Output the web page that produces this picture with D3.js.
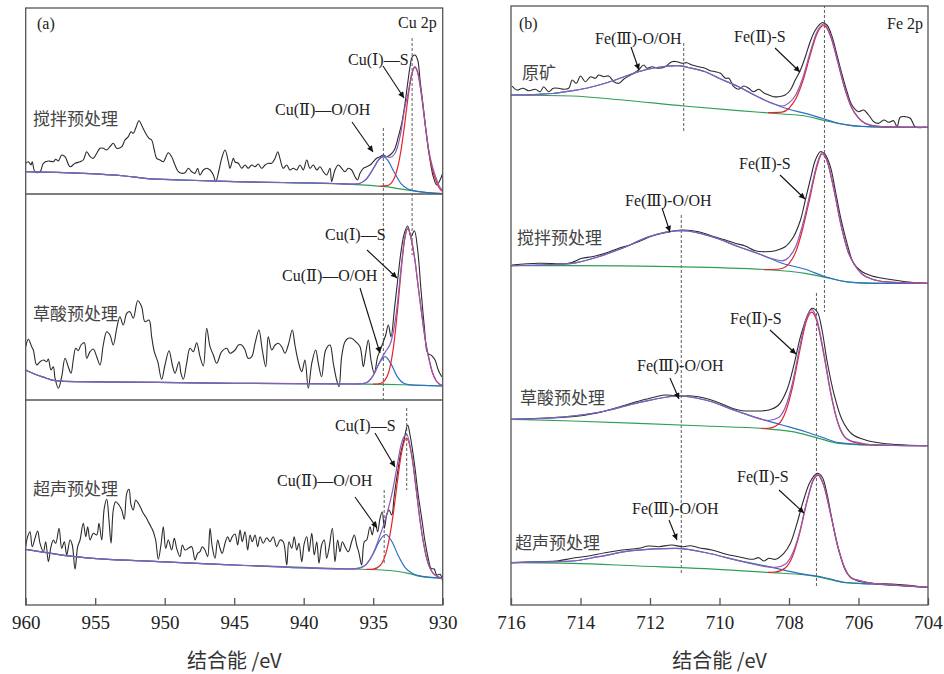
<!DOCTYPE html>
<html>
<head>
<meta charset="utf-8">
<script src="https://cdn.jsdelivr.net/npm/d3@7"></script>
<style>
  body { margin: 0; background: #fff; }
  svg { display: block; }
</style>
</head>
<body>
<svg width="944" height="674"></svg>
<script>
//  tick values
var cuTicks = [960, 955, 950, 945, 940, 935, 930];
var feTicks = [716, 714, 712, 710, 708, 706, 704];

//  sample names
var cuSamples = ["搅拌预处理", "草酸预处理", "超声预处理"];
var feSamples = ["原矿", "搅拌预处理", "草酸预处理", "超声预处理"];

//  peak positions marked with dashed lines (eV)
var cuPeakEnergies = [934.27, 932.2, 934.21, 932.59];
var fePeakEnergies = [711.03, 706.98, 711.1, 707.21];

//  Cu 2p, [binding energy, intensity a.u.]
var cuRaw1 = [[960,30.7],[959.81,32.3],[959.62,29],[959.53,32.3],[959.33,22.3],[958.97,22.3],[958.73,30.7],[958.37,33],[958.01,32.3],[957.84,34.7],[957.65,33],[957.41,39],[957.17,37.3],[956.81,27.3],[956.45,30.7],[956.09,32.3],[955.86,34],[955.61,42.3],[955.37,37.3],[955.14,35.7],[954.89,40.7],[954.65,45.7],[954.42,45.7],[954.17,44],[953.94,47.3],[953.7,50.7],[953.45,45.7],[953.09,47.3],[952.86,54],[952.62,57.3],[952.42,62.3],[952.26,60.7],[952.09,65.7],[951.85,73.3],[951.61,67.3],[951.37,60.7],[951.13,55.7],[950.94,54],[950.75,44],[950.58,35.7],[950.34,34],[950.1,32.3],[949.74,41.3],[949.5,37.3],[949.26,29],[949.02,22.3],[948.78,20.7],[948.54,21.3],[948.3,25.7],[948.06,22.3],[947.82,20.7],[947.63,25.7],[947.46,19],[947.22,24],[946.98,25.7],[946.74,24],[946.5,19],[946.33,12.3],[946.09,24],[945.9,35.7],[945.66,44],[945.42,32.3],[945.3,25.7],[945.06,35.7],[944.94,32],[944.7,30.7],[944.46,25.7],[944.22,29],[943.99,25.7],[943.74,29],[943.5,27.3],[943.27,30],[943.02,25.7],[942.78,29],[942.55,30.7],[942.3,30.7],[942.06,35.7],[941.87,42.3],[941.71,35.7],[941.47,25.7],[941.22,29],[940.99,24],[940.75,25.7],[940.5,24],[940.27,29],[940.03,24],[939.78,34],[939.55,25.7],[939.31,29],[939.06,24],[938.83,27.3],[938.59,22.3],[938.35,19],[938.11,25.7],[937.99,12.3],[937.75,24],[937.51,29],[937.27,25.7],[937.03,22.3],[936.79,25.7],[936.55,24],[936.31,17.3],[936.12,14],[935.95,20.7],[935.71,25.7],[935.47,27.3],[935.23,29],[934.99,32.3],[934.75,35.7],[934.51,37.3],[934.27,39],[934.03,37.3],[933.79,39],[933.48,44],[933.19,57.3],[932.95,70.7],[932.71,90.7],[932.52,110.7],[932.35,127.3],[932.19,137.3],[931.99,139],[931.8,134],[931.63,114],[931.4,87.3],[931.15,57.3],[930.91,34],[930.68,17.3],[930.43,9],[930.19,14],[930,20.7]];
var cuBg1 = [[960,22.3],[952.86,18],[951.4,15.7],[948.8,14],[944.94,12.3],[936.55,9.7],[934.15,7.3],[932.23,3.3],[930.55,0.6],[930,0.4]];
var cuLow1 = [[937,10.2],[936.5,9.8],[936,10.5],[935.5,14.8],[935,25.2],[934.6,34.4],[934.27,37.2],[934,34.7],[933.5,22],[933,10.4],[932.5,5],[932,3.1],[931,1.3],[930,0.4]];
var cuMain1 = [[934.5,7.7],[934,8.3],[933.5,15.3],[933,43.6],[932.75,68.4],[932.5,95.9],[932.25,117.9],[932,126.7],[931.75,118.5],[931.5,96.2],[931.25,68],[931,42],[930.75,25],[930.5,14],[930.25,6],[930,2.5]];
var cuEnv1 = [[937,10.2],[936.5,9.8],[936,10.5],[935.5,14.8],[935,25.2],[934.6,34.5],[934.27,37.8],[933.79,36.7],[933.43,40.7],[933.07,57.3],[932.71,87.3],[932.5,100],[932.25,119],[932,127.3],[931.75,119],[931.5,97],[931.25,69],[931,44],[930.75,28],[930.5,17],[930.25,8],[930,3.5]];

var cuRaw2 = [[960,53.3],[959.81,60.7],[959.57,53.3],[959.45,50],[959.21,35],[958.97,38.3],[958.73,40],[958.49,38.3],[958.37,41],[958.18,30],[958.01,33.3],[957.89,21.7],[957.65,11.7],[957.41,23.3],[957.17,41.7],[956.94,33.3],[956.74,26.7],[956.58,40],[956.4,51.7],[956.22,49.3],[956.02,55],[955.78,57.3],[955.61,41.7],[955.37,48.3],[955.14,51],[954.89,43.3],[954.65,35],[954.42,55],[954.17,68.3],[953.94,65],[953.7,55],[953.45,71.7],[953.22,83.3],[952.98,75],[952.73,86.7],[952.5,88.3],[952.26,81.7],[951.94,99.3],[951.66,93.3],[951.42,78.3],[951.13,80],[950.94,63.3],[950.75,48.3],[950.5,38.3],[950.22,20.7],[949.98,35],[949.69,49.3],[949.45,35],[949.26,26.7],[948.97,38.3],[948.83,26.7],[948.66,20.7],[948.42,36.7],[948.18,51.7],[947.94,48.3],[947.7,57.3],[947.46,43.3],[947.22,34],[946.98,71.7],[946.74,53.3],[946.5,45],[946.26,36.7],[945.9,48.3],[945.54,51.7],[945.3,46.7],[944.94,50],[944.7,55],[944.46,55],[944.22,50],[943.99,41.7],[943.74,43.3],[943.5,56.7],[943.22,70],[942.98,50],[942.73,33.3],[942.55,63.3],[942.3,50],[942.06,55],[941.83,56.7],[941.58,53.3],[941.35,46.7],[941.11,55],[940.82,70],[940.63,55],[940.39,38.3],[940.14,28.3],[939.91,40],[939.67,11.7],[939.42,36.7],[939.14,50],[938.95,36.7],[938.71,23.3],[938.42,50],[938.11,55],[937.87,36.7],[937.63,20],[937.46,13.3],[937.27,43.3],[937.03,58.3],[936.79,61.7],[936.55,61.7],[936.26,58.3],[935.95,53.3],[935.71,33.3],[935.54,46.7],[935.35,60],[935.16,40],[934.92,26.7],[934.68,43.3],[934.49,50],[934.27,58.3],[934.1,65],[933.91,75],[933.72,63.3],[933.48,90],[933.24,120],[933,148.3],[932.76,166.7],[932.52,174],[932.28,163.3],[932.04,169.3],[931.8,150],[931.56,110],[931.32,73.3],[931.08,46.7],[930.79,44.3],[930.55,40],[930.32,30],[930.07,23.3]];
var cuBg2 = [[960,30],[959.33,25.7],[958.61,22.3],[957.89,19.3],[956.45,18.3],[950.48,17.7],[944.94,16.7],[936.31,16],[934.15,15.7],[932.28,15],[930,14]];
var cuLow2 = [[936.5,16],[936,16.1],[935.5,17.3],[935,24.5],[934.6,35.8],[934.15,43.3],[933.7,35.6],[933.3,24.1],[932.8,16.8],[932.3,15.1],[931,14.4],[930,14]];
var cuMain2 = [[935,15.8],[934.5,16.5],[934,23.6],[933.5,57.3],[933.25,89.8],[933,127.8],[932.75,159.3],[932.5,171.6],[932.25,160],[932,140],[931.75,112],[931.5,85],[931.25,60],[931,42],[930.75,28],[930.5,20],[930.25,16],[930,14.5]];
var cuEnv2 = [[936,16.1],[935.5,17.3],[935,24.6],[934.6,36.2],[934.15,47.6],[933.7,59],[933.3,91.4],[933,131.2],[932.75,160.5],[932.5,171.9],[932.25,160.2],[932,140.1],[931.75,112],[931.5,85],[931.25,60],[931,42],[930.75,28],[930.5,20],[930.25,16],[930,14.5]];

var cuRaw3 = [[960,58.3],[959.86,68.3],[959.69,73.3],[959.53,58.3],[959.33,66.7],[959.14,74],[958.97,61.7],[958.73,53.3],[958.56,63.3],[958.37,43.3],[958.18,58.3],[958.01,65],[957.84,61.7],[957.6,76.7],[957.41,56.7],[957.22,63.3],[957.05,50],[956.81,65],[956.65,60],[956.45,35.7],[956.26,58.3],[956.09,65],[955.86,81.7],[955.68,68.3],[955.54,78.3],[955.37,65],[955.14,71.7],[954.89,70],[954.73,81.7],[954.53,65],[954.35,96.7],[954.17,105.7],[954.01,85],[953.86,61.7],[953.7,95],[953.53,103.3],[953.29,100],[953.09,95],[952.91,85.7],[952.73,111.7],[952.57,115.7],[952.42,100],[952.26,95],[952.09,105],[951.9,101.7],[951.71,96.7],[951.54,91.7],[951.37,88.3],[951.18,83.3],[950.99,78.3],[950.82,73.3],[950.65,65],[950.46,45.7],[950.27,60],[950.1,78.3],[949.93,56.7],[949.74,65],[949.5,55],[949.31,66.7],[949.14,56.7],[948.9,48.3],[948.73,60],[948.54,55],[948.3,56.7],[948.06,58.3],[947.82,45],[947.63,51.7],[947.46,53.3],[947.3,58.3],[947.1,55],[946.91,48.3],[946.74,76.7],[946.58,58.3],[946.38,46.7],[946.19,65],[946.02,56.7],[945.86,51.7],[945.66,61.7],[945.47,68.3],[945.3,63.3],[945.14,68.3],[944.94,71],[944.75,60],[944.58,75],[944.42,63.3],[944.22,73.3],[944.03,55],[943.86,70],[943.7,63.3],[943.5,70],[943.31,58.3],[943.14,68.3],[942.91,61.7],[942.66,67.3],[942.42,63.3],[942.19,68.3],[941.94,58.3],[941.7,65],[941.47,63.3],[941.22,40],[941.06,63.3],[940.86,56.7],[940.68,68.3],[940.5,55],[940.34,61.7],[940.14,43.3],[939.96,61.7],[939.78,68.3],[939.62,53.3],[939.42,71.7],[939.24,50],[939.06,63.3],[938.9,41.7],[938.71,60],[938.52,65],[938.35,46.7],[938.18,56.7],[937.94,76.7],[937.75,43.3],[937.56,65],[937.39,53.3],[937.22,63.3],[937.03,58.3],[936.79,53.3],[936.55,63.3],[936.36,70],[936.19,60],[936.02,51.7],[935.83,40],[935.64,63.3],[935.47,65],[935.23,78.3],[935.07,70],[934.87,83.3],[934.68,73.3],[934.51,86.7],[934.35,93.3],[934.2,76.7],[934.03,90],[933.86,95],[933.67,90],[933.48,110],[933.24,133.3],[933,153.3],[932.76,166.7],[932.52,180],[932.35,170],[932.19,156.7],[931.99,136.7],[931.76,110],[931.51,86.7],[931.27,63.3],[931.04,46.7],[930.84,36.7],[930.61,36],[930.43,30],[930.19,30.7],[930,23.3]];
var cuBg3 = [[960,55.7],[956.45,48.3],[950.45,43.3],[944.94,40],[936.55,36],[934.39,35],[932.47,31.7],[931.5,28.3],[930,26.7]];
var cuLow3 = [[936.5,36.1],[936,36.8],[935.5,40.6],[935,51.2],[934.6,62.9],[934.1,70.5],[933.6,62],[933.2,49.4],[932.7,37.3],[932.2,31.8],[931.7,29.3],[931,27.8],[930,26.7]];
var cuMain3 = [[935.5,35.6],[935,35.9],[934.5,39.5],[934,56.1],[933.6,86.9],[933.3,118.8],[933,149.2],[932.6,166.8],[932.2,146.8],[931.9,114.9],[931.6,81.5],[931.2,49.4],[930.7,31.8],[930.2,27.4],[930,26.8]];
var cuEnv3 = [[936.5,36.1],[936,36.8],[935.5,40.7],[935,51.8],[934.6,66.1],[934.1,86.8],[933.6,114.7],[933.2,145.4],[933,159.8],[932.6,170.6],[932.2,147.8],[931.9,114.9],[931.6,81.5],[931.2,49.4],[930.7,31.8],[930.2,27.4],[930,26.8]];

//  Fe 2p, [binding energy, intensity a.u.]
var feRaw1 = [[715.97,59],[715.83,55],[715.66,56.7],[715.49,54.3],[715.3,55.7],[715.16,53.3],[715.06,58.3],[714.92,53.3],[714.78,56.7],[714.63,56.7],[714.49,55.7],[714.34,56.7],[714.24,65],[714.12,61.7],[714,69],[713.86,63.3],[713.71,68.3],[713.57,66.7],[713.48,70],[713.33,68.3],[713.19,69],[713.04,63.3],[712.9,61.7],[712.76,65.7],[712.61,69],[712.47,71.7],[712.33,75],[712.18,80],[712.09,76.7],[711.94,78.3],[711.75,76.7],[711.56,78.3],[711.37,83.3],[711.22,83.3],[711.08,81.7],[710.94,82.3],[710.79,80],[710.6,78.3],[710.41,76.7],[710.27,74.3],[710.12,73.3],[709.97,71.7],[709.83,66.7],[709.73,66.7],[709.59,58.3],[709.45,55.7],[709.3,59],[709.16,56.7],[709.02,53.3],[708.87,55.7],[708.73,52.3],[708.58,50],[708.44,48.3],[708.3,48.3],[708.11,50],[707.96,55],[707.82,65],[707.67,75],[707.53,88.3],[707.39,103.3],[707.24,115],[707.05,122.3],[706.91,120],[706.76,108.3],[706.62,90],[706.47,70],[706.33,53.3],[706.19,40],[706,33.3],[705.85,35],[705.71,30],[705.56,23.3],[705.42,21.7],[705.27,25],[705.13,22.7],[704.99,24.3],[704.89,18.3],[704.8,27.7],[704.65,28.3],[704.51,26.7],[704.37,18.3],[704.22,17.3],[704.08,18.3]];
var feBg1 = [[716,50],[714.24,49],[712.8,45],[711.03,39],[709.45,34.3],[708.2,31],[707.53,29],[706.96,24.3],[706.09,19],[705.13,17.7],[704,17.7]];
var feLow1 = [[716,50],[715.2,50.7],[714.8,51.5],[714.24,54.3],[713.8,57],[713.29,61.7],[712.8,67.5],[712.33,73.3],[711.8,77.5],[711.22,79.3],[710.9,77.5],[710.41,73.3],[710,66.5],[709.45,58.3],[709,50],[708.49,41.7],[708.01,35.7],[707.53,31.7],[707.05,26.7],[706.57,21.7],[705.7,18.3],[704,17.7]];
var feMain1 = [[708.6,32.3],[708.2,32.9],[708,36.7],[707.8,46.4],[707.6,64.2],[707.4,88.6],[707.2,110.8],[707,119.5],[706.8,108.3],[706.6,83.3],[706.4,57],[706.2,37.5],[706,27],[705.8,21.5],[705.5,18.8],[705,17.8],[704,17.7]];
var feEnv1 = [[708.49,41.9],[708.2,39],[708,42.1],[707.8,50.5],[707.6,67.5],[707.4,91.5],[707.2,112.8],[707,121],[706.8,109.5],[706.6,84],[706.4,57.5],[706.2,37.8],[706,27.2],[705.8,21.6],[705.5,18.8],[705,17.8],[704,17.7]];

var feRaw2 = [[715.97,33],[715.2,34.7],[714.34,34.7],[713.96,39.7],[713.67,41.3],[713.29,44.7],[712.9,49.7],[712.62,52.5],[712.33,56.3],[711.94,62],[711.56,65.3],[711.08,68],[710.6,66.3],[710.22,62],[709.83,58],[709.55,54.7],[709.26,52],[708.97,47.3],[708.68,46.3],[708.39,47.3],[708.11,51.3],[707.87,61.3],[707.67,78],[707.53,98],[707.39,118],[707.24,138],[707.1,146.3],[706.97,144],[706.81,131.3],[706.67,108],[706.52,81.3],[706.33,54.7],[706.14,34.7],[705.9,26.3],[705.61,22],[705.13,18.7],[704.65,16.3],[704.08,14.7]];
var feBg2 = [[716,32.3],[714.24,32.3],[711.37,31.3],[708.49,28],[707.53,24.7],[706.96,20.7],[706.09,15.3],[705.13,14.7],[704,14.7]];
var feLow2 = [[716,32.3],[715.2,33],[714.24,34.7],[713.48,41.3],[712.8,49.7],[712.04,61.3],[711.08,67.3],[710.22,61.3],[709.45,51.3],[708.78,43],[708.2,34.7],[707.53,28.7],[706.96,21.3],[706.38,16.3],[705.61,14.7],[704,14.7]];
var feMain2 = [[708.7,28.4],[708.5,28.5],[708.2,29.5],[708,34.3],[707.8,46.6],[707.6,70],[707.4,100],[707.2,130.8],[707.05,144],[706.9,136.3],[706.7,106.8],[706.5,72.3],[706.3,46.3],[706.1,32.5],[705.9,24],[705.6,18.8],[705.2,16.2],[704.5,15.2],[704,14.7]];
var feEnv2 = [[708.78,43],[708.5,39.5],[708.2,37.2],[708,40.9],[707.8,52.1],[707.6,74.3],[707.4,103.5],[707.2,133.1],[707.05,145.4],[706.9,137.3],[706.7,107.6],[706.5,72.6],[706.3,46.3],[706.1,32.5],[705.9,24],[705.6,18.8],[705.2,16.2],[704.5,15.2],[704,14.7]];

var feRaw3 = [[715.97,32.7],[715.2,33.7],[714.24,35.3],[713.48,39.3],[712.8,46],[712.13,52.7],[711.56,57],[711.17,56],[710.79,56],[710.41,53.7],[710.02,49.3],[709.64,43.7],[709.35,41.3],[708.97,41],[708.58,42],[708.3,47],[708.06,62],[707.87,85.3],[707.67,115.3],[707.48,135.3],[707.34,143.7],[707.19,140.3],[707.05,122],[706.91,92],[706.71,58.7],[706.47,32],[706.19,18],[705.8,12],[705.32,8.7],[704.65,7],[704.08,6.3]];
var feBg3 = [[716,32.7],[714.24,31],[712.33,28.7],[710.41,26],[708.49,22.7],[707.91,20.3],[707.24,14.7],[706.57,8.7],[705.61,7],[704,6.3]];
var feLow3 = [[716,32.7],[715.2,33.5],[714.24,36],[713.29,41],[712.33,49.3],[711.17,56],[710.41,52],[709.45,40.3],[708.78,32.7],[708.2,27],[707.53,20.3],[707.05,14.7],[706.57,9.3],[705.61,7],[704,6.3]];
var feMain3 = [[708.8,23.5],[708.6,23.7],[708.3,28],[708.1,40],[707.9,64.7],[707.7,99.7],[707.5,131],[707.34,139.9],[707.2,130.9],[707,97.7],[706.8,58.7],[706.6,29.7],[706.4,15],[706.2,10.5],[706,8.8],[705.8,7.6],[705.5,7],[704,6.3]];
var feEnv3 = [[708.78,32.7],[708.6,31.5],[708.3,34.5],[708.1,45.2],[707.9,69],[707.7,103.4],[707.5,134],[707.34,142.3],[707.2,133],[707,99.4],[706.8,60],[706.6,30.4],[706.4,15.3],[706.2,11],[706,9.5],[705.8,8],[705.5,7.2],[704,6.3]];

var feRaw4 = [[715.97,42.3],[715.2,43.3],[714.63,44.3],[714.24,46.7],[713.76,49],[713.29,52.3],[712.8,55],[712.33,56.7],[712.04,59],[711.75,58.3],[711.37,60],[711.08,58.3],[710.84,59.3],[710.6,57.3],[710.22,55],[709.83,51],[709.45,48.3],[709.06,45.7],[708.87,47.3],[708.73,44],[708.58,46.7],[708.39,45.7],[708.15,51.7],[707.96,61.7],[707.77,81.7],[707.58,105],[707.39,123.3],[707.19,131.7],[707.05,128.3],[706.91,111.7],[706.76,85],[706.57,55],[706.33,31.7],[706.09,25],[705.61,21.7],[705.04,21],[704.65,20],[704.08,17.7]];
var feBg4 = [[716,42.3],[714.24,41.7],[712.33,39],[710.41,36.3],[708.49,32.3],[707.53,30],[706.96,26.7],[706.38,22.3],[705.61,21],[704,17.7]];
var feLow4 = [[716,42.3],[715.2,43],[714.24,44],[713.48,48.3],[712.52,54.3],[711.27,56.7],[710.22,51],[709.45,44.3],[708.49,37.7],[707.72,31.7],[707.05,28],[706.38,22.5],[705.61,21],[704,17.7]];
var feMain4 = [[708.6,32.6],[708.4,33],[708.1,37.3],[707.9,48.5],[707.7,70.8],[707.5,100.8],[707.3,124.8],[707.17,129.7],[707,119.4],[706.8,90.4],[706.6,59.2],[706.4,37.2],[706.2,26.7],[706,24.6],[705.8,22.8],[705.5,21.3],[705,20],[704,17.7]];
var feEnv4 = [[708.49,37.7],[708.4,37.6],[708.1,41.1],[707.9,51.4],[707.7,72.1],[707.5,101.8],[707.3,125.5],[707.17,130.3],[707,120],[706.8,90.8],[706.6,59.4],[706.4,37.3],[706.2,26.8],[706,24.6],[705.8,22.8],[705.5,21.3],[705,20],[704,17.7]];

//  svg and styles
var svg = d3.select("svg");
var serif = '"Liberation Serif", "DejaVu Serif", serif';
var cjk = '"Noto Sans CJK SC", sans-serif';
var colors = { raw: "#2b2b2b", bg: "#2f9e57", low: "#2a70c6", main: "#e8232b", env: "#8d5cb5" };

svg.append("defs").append("marker")
  .attr("id", "arrow")
  .attr("viewBox", "0 0 10 10")
  .attr("refX", 10).attr("refY", 5)
  .attr("markerUnits", "userSpaceOnUse")
  .attr("markerWidth", 10).attr("markerHeight", 6)
  .attr("orient", "auto")
  .append("path").attr("d", "M0,0L10,5L0,10z").attr("fill", "#111");

// fill a component out to the full energy range with its base line
function extend(core, base) {
  var hi = core[0][0], lo = core[core.length - 1][0];
  return base.filter(function(d) { return d[0] > hi; })
    .concat(core, base.filter(function(d) { return d[0] < lo; }));
}

var panels = [
  {
    id: "a", left: 25.7, right: 442.7, top: 8, bottom: 605, domain: [960, 930], ticks: cuTicks,
    rows: [[8, 194], [194, 400], [400, 605]], separators: true,
    spectra: [
      { raw: cuRaw1, bg: cuBg1, low: extend(cuLow1, cuBg1), main: cuMain1, env: extend(cuEnv1, cuBg1) },
      { raw: cuRaw2, bg: cuBg2, low: extend(cuLow2, cuBg2), main: cuMain2, env: extend(cuEnv2, cuBg2) },
      { raw: cuRaw3, bg: cuBg3, low: extend(cuLow3, cuBg3), main: cuMain3, env: extend(cuEnv3, cuBg3) }
    ],
    names: cuSamples,
    nameAt: [[33, 125], [33, 320], [33, 495]],
    peaks: cuPeakEnergies,
    dashes: [[128, 400], [38, 255], [490, 565], [408, 490]],
    tag: "(a)", tagAt: [37, 29], core: "Cu 2p", coreAt: [398, 28],
    notes: [
      { t: "Cu(Ⅱ)—O/OH", at: [275, 115], from: [352, 122], to: [373, 152] },
      { t: "Cu(Ⅰ)—S", at: [348, 65], from: [383, 66], to: [404, 98] },
      { t: "Cu(Ⅰ)—S", at: [325, 240], from: [367, 250], to: [397, 278] },
      { t: "Cu(Ⅱ)—O/OH", at: [282, 281], from: [360, 288], to: [380, 353] },
      { t: "Cu(Ⅰ)—S", at: [335, 431], from: [375, 433], to: [395, 467] },
      { t: "Cu(Ⅱ)—O/OH", at: [277, 486], from: [355, 497], to: [377, 528] }
    ]
  },
  {
    id: "b", left: 511, right: 928, top: 6, bottom: 605, domain: [716, 704], ticks: feTicks,
    rows: [[6, 145], [145, 298], [298, 452], [452, 605]], separators: false,
    spectra: [
      { raw: feRaw1, bg: feBg1, low: feLow1, main: feMain1, env: extend(feEnv1, feLow1) },
      { raw: feRaw2, bg: feBg2, low: feLow2, main: feMain2, env: extend(feEnv2, feLow2) },
      { raw: feRaw3, bg: feBg3, low: feLow3, main: feMain3, env: extend(feEnv3, feLow3) },
      { raw: feRaw4, bg: feBg4, low: feLow4, main: feMain4, env: extend(feEnv4, feLow4) }
    ],
    names: feSamples,
    nameAt: [[522, 79], [517, 244], [520, 404], [515, 549]],
    peaks: fePeakEnergies,
    dashes: [[43, 133], [5, 312], [215, 575], [293, 587]],
    tag: "(b)", tagAt: [519, 29], core: "Fe 2p", coreAt: [887, 29],
    notes: [
      { t: "Fe(Ⅲ)-O/OH", at: [595, 44], from: [631, 47], to: [639, 70] },
      { t: "Fe(Ⅱ)-S", at: [734, 42], from: [775, 48], to: [800, 72] },
      { t: "Fe(Ⅲ)-O/OH", at: [625, 206], from: [662, 208], to: [670, 232] },
      { t: "Fe(Ⅱ)-S", at: [739, 169], from: [780, 175], to: [805, 199] },
      { t: "Fe(Ⅲ)-O/OH", at: [637, 371], from: [670, 378], to: [679, 399] },
      { t: "Fe(Ⅱ)-S", at: [730, 324], from: [770, 330], to: [796, 354] },
      { t: "Fe(Ⅲ)-O/OH", at: [632, 514], from: [669, 520], to: [677, 540] },
      { t: "Fe(Ⅱ)-S", at: [737, 482], from: [779, 490], to: [804, 513] }
    ]
  }
];

panels.forEach(function(p) {
  var x = d3.scaleLinear().domain(p.domain).range([p.left, p.right]);
  var g = svg.append("g");

  g.append("clipPath").attr("id", "clip-" + p.id)
    .append("rect")
    .attr("x", p.left).attr("y", p.top)
    .attr("width", p.right - p.left).attr("height", p.bottom - p.top);

  var plot = g.append("g").attr("clip-path", "url(#clip-" + p.id + ")");

  // dashed peak markers
  p.peaks.forEach(function(e, i) {
    plot.append("line")
      .attr("x1", x(e)).attr("x2", x(e))
      .attr("y1", p.dashes[i][0]).attr("y2", p.dashes[i][1])
      .attr("stroke", "#333").attr("stroke-width", 0.8)
      .attr("stroke-dasharray", "3,2");
  });

  // spectra, one row each
  p.rows.forEach(function(row, i) {
    var s = p.spectra[i];
    var y = d3.scaleLinear().domain([0, row[1] - row[0]]).range([row[1], row[0]]);
    var rawLine = d3.line().curve(d3.curveCatmullRom.alpha(0.5))
      .x(function(d) { return x(d[0]); }).y(function(d) { return y(d[1]); });
    var fitLine = d3.line().curve(d3.curveMonotoneX)
      .x(function(d) { return x(d[0]); }).y(function(d) { return y(d[1]); });

    plot.append("path").datum(s.raw).attr("d", rawLine)
      .attr("fill", "none").attr("stroke", colors.raw).attr("stroke-width", 1.1);
    ["bg", "low", "main", "env"].forEach(function(k) {
      plot.append("path").datum(s[k]).attr("d", fitLine)
        .attr("fill", "none").attr("stroke", colors[k]).attr("stroke-width", 1.2);
    });

    g.append("text")
      .attr("x", p.nameAt[i][0]).attr("y", p.nameAt[i][1])
      .style("font-family", cjk).style("font-size", "17px").attr("fill", "#444")
      .text(p.names[i]);
  });

  // frame and row separators
  g.append("rect")
    .attr("x", p.left).attr("y", p.top)
    .attr("width", p.right - p.left).attr("height", p.bottom - p.top)
    .attr("fill", "none").attr("stroke", "#555").attr("stroke-width", 1.3);
  if (p.separators) {
    p.rows.slice(1).forEach(function(row) {
      g.append("line")
        .attr("x1", p.left).attr("x2", p.right)
        .attr("y1", row[0]).attr("y2", row[0])
        .attr("stroke", "#555").attr("stroke-width", 1.3);
    });
  }

  // bottom axis, ticks pointing inward
  var axis = g.append("g")
    .attr("transform", "translate(0," + p.bottom + ")")
    .call(d3.axisBottom(x).tickValues(p.ticks).tickSize(-7).tickPadding(11).tickFormat(d3.format("d")));
  axis.select(".domain").remove();
  axis.selectAll(".tick line").attr("stroke", "#555").attr("stroke-width", 1.3);
  axis.selectAll(".tick text")
    .style("font-family", serif).style("font-size", "19px").attr("fill", "#222");

  g.append("text")
    .attr("x", (p.left + p.right) / 2).attr("y", 668)
    .attr("text-anchor", "middle")
    .style("font-family", cjk).style("font-size", "20px").attr("fill", "#333")
    .text("结合能 /eV");

  g.append("text").attr("x", p.tagAt[0]).attr("y", p.tagAt[1])
    .style("font-family", serif).style("font-size", "16px").attr("fill", "#222").text(p.tag);
  g.append("text").attr("x", p.coreAt[0]).attr("y", p.coreAt[1])
    .style("font-family", serif).style("font-size", "16px").attr("fill", "#222").text(p.core);

  // peak annotations
  p.notes.forEach(function(n) {
    g.append("text").attr("x", n.at[0]).attr("y", n.at[1])
      .style("font-family", serif).style("font-size", "16px").attr("fill", "#222")
      .text(n.t);
    g.append("line")
      .attr("x1", n.from[0]).attr("y1", n.from[1])
      .attr("x2", n.to[0]).attr("y2", n.to[1])
      .attr("stroke", "#111").attr("stroke-width", 1.1)
      .attr("marker-end", "url(#arrow)");
  });
});
</script>
</body>
</html>
